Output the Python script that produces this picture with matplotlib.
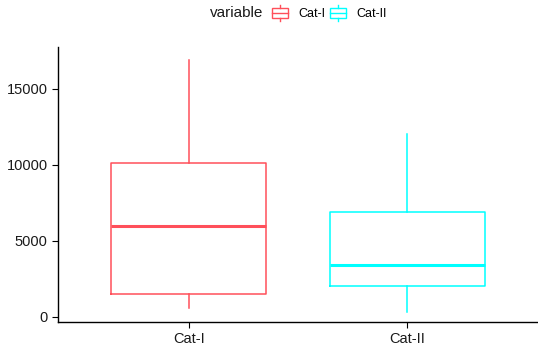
import matplotlib.pyplot as plt
from matplotlib.lines import Line2D
from matplotlib.legend_handler import HandlerBase
from matplotlib.patches import Rectangle

plt.rcParams['font.family'] = ['Liberation Sans', 'DejaVu Sans']

categories = ['Cat-I', 'Cat-II']
whisker_low = [590, 330]
q1 = [1510, 2040]
median = [6000, 3420]
q3 = [10130, 6910]
whisker_high = [16900, 12040]
colors = ['#FF4F5A', '#00FFFF']
y_ticks = [0, 5000, 10000, 15000]

fig = plt.figure(figsize=(5.38, 3.5), dpi=100)
ax = fig.add_axes([58 / 538, 28 / 350, 480 / 538, 275 / 350])

stats = []
for i, c in enumerate(categories):
    stats.append({'label': c, 'whislo': whisker_low[i], 'q1': q1[i], 'med': median[i],
                  'q3': q3[i], 'whishi': whisker_high[i], 'fliers': []})

for i, s in enumerate(stats):
    col = colors[i]
    ax.bxp([s], positions=[i + 1], widths=0.71, showcaps=False,
           boxprops=dict(color=col, linewidth=1.1),
           whiskerprops=dict(color=col, linewidth=1.1),
           medianprops=dict(color=col, linewidth=2.2),
           manage_ticks=False)

ax.set_xlim(0.4, 2.6)
ax.set_ylim(-330, 17760)
ax.set_xticks([1, 2])
ax.set_xticklabels(categories)
ax.set_yticks(y_ticks)
ax.set_yticklabels([str(v) for v in y_ticks])
ax.tick_params(labelsize=10.5, colors='black', length=4, width=0.8, labelcolor='#1a1a1a')
for side in ['top', 'right']:
    ax.spines[side].set_visible(False)
for side in ['left', 'bottom']:
    ax.spines[side].set_linewidth(1.0)


class BoxHandler(HandlerBase):
    def create_artists(self, legend, orig_handle, xdescent, ydescent, width, height, fontsize, trans):
        col = orig_handle.get_color()
        bw = width * 0.9
        x0 = (width - bw) / 2 - xdescent
        y0 = -ydescent + height * 0.17
        bh = height * 0.66
        xc = width / 2 - xdescent
        rect = Rectangle((x0, y0), bw, bh, fill=False, edgecolor=col, linewidth=1.0, transform=trans)
        med = Line2D([x0, x0 + bw], [y0 + bh / 2] * 2, color=col, linewidth=1.0, transform=trans)
        wt = Line2D([xc, xc], [y0 + bh, -ydescent + height], color=col, linewidth=1.0, transform=trans)
        wb = Line2D([xc, xc], [y0, -ydescent], color=col, linewidth=1.0, transform=trans)
        return [rect, med, wt, wb]


fig.text(210 / 538, 1 - 13 / 350, 'variable', fontsize=11, ha='left', va='center', color='#1a1a1a')
handles = [Line2D([], [], color=c) for c in colors]
leg = fig.legend(handles, categories, loc='center left',
                 bbox_to_anchor=(271 / 538, 1 - 13 / 350), ncol=2, frameon=False, fontsize=9,
                 handler_map={Line2D: BoxHandler()}, borderpad=0, borderaxespad=0,
                 handlelength=1.4, handleheight=1.6, handletextpad=0.8, columnspacing=0.3)

fig.savefig('out.png', dpi=100)
